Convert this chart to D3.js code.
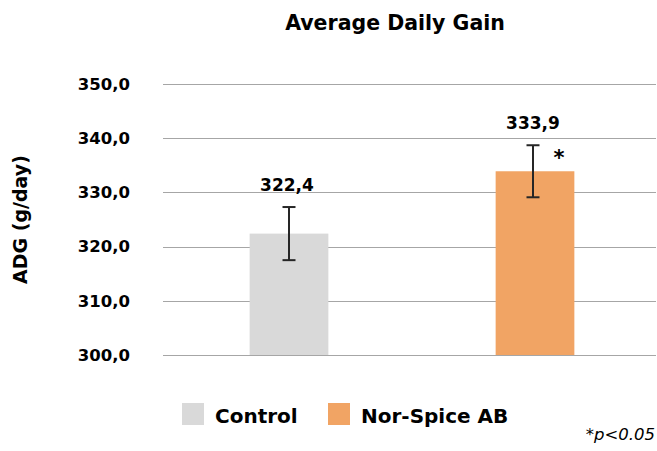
<!DOCTYPE html>
<html><head><meta charset="utf-8">
<script src="https://cdn.jsdelivr.net/npm/d3@7"></script>
<style>body{margin:0;background:#fff}svg{display:block}</style>
</head><body>
<svg id="c" width="657" height="451"></svg>
<script>
const categories = ["Control", "Nor-Spice AB"];
const values = [322.4, 333.9];
const errors = [4.9, 4.8];
const colors = ["#d9d9d9", "#f1a464"];
const valueLabels = ["322,4", "333,9"];
const significance = ["", "*"];
const yTicks = [300, 310, 320, 330, 340, 350];
const title = "Average Daily Gain";
const yTitle = "ADG (g/day)";
const footnote = "*p<0.05";

const svg = d3.select("#c");
const font = "DejaVu Sans, sans-serif";
const L = 166, R = 658, T = 84, B = 355;
const y = d3.scaleLinear().domain([300, 350]).range([B, T]);
const x = d3.scaleBand().domain(categories).range([L, R]).paddingInner(0.68).paddingOuter(0.34);

svg.append("text").attr("x", 395).attr("y", 30).attr("text-anchor", "middle")
  .attr("font-family", font).attr("font-weight", "bold").attr("font-size", 20.5).text(title);

// gridlines
svg.append("g").selectAll("line").data(yTicks).join("line")
  .attr("x1", 163).attr("x2", 656).attr("y1", d => Math.round(y(d)) + 0.5).attr("y2", d => Math.round(y(d)) + 0.5)
  .attr("stroke", "#a6a6a6").attr("stroke-width", 1);

// y axis labels
const yAxis = d3.axisLeft(y).tickValues(yTicks).tickSize(0).tickPadding(0)
  .tickFormat(d => d3.format(".1f")(d).replace(".", ","));
const ga = svg.append("g").attr("transform", "translate(130,0)").call(yAxis);
ga.select(".domain").remove();
ga.selectAll("text").attr("font-family", font).attr("font-weight", "bold").attr("font-size", 16.5).attr("fill", "#000");

svg.append("text").attr("transform", `translate(27,${(T + B) / 2}) rotate(-90)`).attr("text-anchor", "middle")
  .attr("font-family", font).attr("font-weight", "bold").attr("font-size", 19).text(yTitle);

// bars
svg.append("g").selectAll("rect").data(categories).join("rect")
  .attr("x", d => x(d)).attr("width", x.bandwidth())
  .attr("y", (d, i) => y(values[i])).attr("height", (d, i) => y(300) - y(values[i]))
  .attr("fill", (d, i) => colors[i]);

// error bars
const eb = svg.append("g").attr("stroke", "#262626").attr("stroke-width", 2);
categories.forEach((c, i) => {
  const cx = x(c) + x.bandwidth() / 2 - (i === 1 ? 2 : 0);
  const y1 = y(values[i] + errors[i]), y2 = y(values[i] - errors[i]);
  eb.append("line").attr("x1", cx).attr("x2", cx).attr("y1", y1).attr("y2", y2);
  eb.append("line").attr("x1", cx - 6.5).attr("x2", cx + 6.5).attr("y1", y1).attr("y2", y1);
  eb.append("line").attr("x1", cx - 6.5).attr("x2", cx + 6.5).attr("y1", y2).attr("y2", y2);
});

// value labels
svg.append("g").selectAll("text").data(categories).join("text")
  .attr("x", d => x(d) + x.bandwidth() / 2 - 2)
  .attr("y", (d, i) => y(values[i] + errors[i]) - 16)
  .attr("text-anchor", "middle").attr("font-family", font).attr("font-weight", "bold").attr("font-size", 17)
  .text((d, i) => valueLabels[i]);

// significance
svg.append("g").selectAll("text").data(categories).join("text")
  .attr("x", d => x(d) + x.bandwidth() / 2 + 24)
  .attr("y", (d, i) => y(values[i] + errors[i]) + 20)
  .attr("text-anchor", "middle").attr("font-family", font).attr("font-weight", "bold").attr("font-size", 21)
  .text((d, i) => significance[i]);

// legend
const legX = [182, 328];
const lg = svg.append("g");
categories.forEach((c, i) => {
  lg.append("rect").attr("x", legX[i]).attr("y", 403).attr("width", 22).attr("height", 22).attr("fill", colors[i]);
  lg.append("text").attr("x", legX[i] + 33).attr("y", 423).attr("font-family", font).attr("font-weight", "bold")
    .attr("font-size", 20).text(c);
});

svg.append("text").attr("x", 655).attr("y", 440).attr("text-anchor", "end")
  .attr("font-family", font).attr("font-style", "italic").attr("font-size", 16.5).text(footnote);
</script>
</body></html>
